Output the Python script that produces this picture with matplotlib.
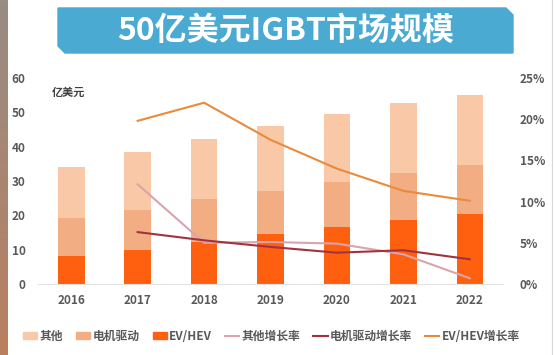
import matplotlib
matplotlib.use("Agg")
import matplotlib.pyplot as plt
from matplotlib.patches import Polygon, Patch
from matplotlib.lines import Line2D
import numpy as np

plt.rcParams["font.family"] = ["Noto Sans CJK SC", "DejaVu Sans"]

years = ["2016", "2017", "2018", "2019", "2020", "2021", "2022"]
# market size, 亿美元 (stacked)
ev_hev = [8.3, 9.9, 12.3, 14.6, 16.5, 18.5, 20.4]
motor = [10.8, 11.7, 12.4, 12.6, 13.3, 13.8, 14.3]
other = [15.1, 16.8, 17.6, 18.7, 19.7, 20.3, 20.4]
# growth rates, % (start at 2017)
other_growth = [12.1, 5.0, 5.1, 4.9, 3.6, 0.7]
motor_growth = [6.3, 5.3, 4.5, 3.8, 4.1, 3.0]
ev_growth = [19.8, 22.0, 17.5, 14.0, 11.3, 10.1]

C_OTHER = "#f9c8a7"
C_MOTOR = "#f2ae82"
C_EV = "#fe6010"
C_OTHER_G = "#d9a4ad"
C_MOTOR_G = "#a3323f"
C_EV_G = "#ea8a3c"
TXT = "#595959"

fig = plt.figure(figsize=(5.54, 3.55), dpi=100)
fig.patch.set_facecolor("white")

#gray-to-brown strip on the left edge
strip = fig.add_axes([0, 0, 8 / 554, 1])
top_c = np.array([0x98, 0x8c, 0x84]) / 255
bot_c = np.array([0xb9, 0x80, 0x5f]) / 255
t = np.linspace(0, 1, 100)[:, None, None]
strip.imshow(top_c * (1 - t) + bot_c * t, aspect="auto", extent=(0, 1, 0, 1))
strip.axis("off")
fig.add_artist(Line2D([552 / 554, 552 / 554], [0, 1], color="#d8d8d8", lw=0.8))

#title banner with cut corners
x0, x1, y0, y1, c = 58 / 554, 513 / 554, 1 - 53 / 355, 1 - 8 / 355, 7
banner = Polygon([(x0, y0 + c / 355), (x0, y1), (x1 - c / 554, y1), (x1, y1 - c / 355),
                  (x1, y0), (x0 + c / 554, y0)],
                 closed=True, transform=fig.transFigure, color="#4aaad2", zorder=1)
fig.patches.append(banner)
fig.text(0.5 * (x0 + x1), 0.5 * (y0 + y1), "50亿美元IGBT市场规模", color="white",
         fontsize=23, fontweight="bold", ha="center", va="center", zorder=2)

ax = fig.add_axes([38 / 554, 71 / 355, 465 / 554, 206 / 355])
x = np.arange(len(years))
w = 0.4
bottom2 = np.array(ev_hev) + np.array(motor)
ax.bar(x, ev_hev, w, color=C_EV, zorder=2)
ax.bar(x, motor, w, bottom=ev_hev, color=C_MOTOR, zorder=2)
ax.bar(x, other, w, bottom=bottom2, color=C_OTHER, zorder=2)
ax.set_xlim(-0.5, 6.5)
ax.set_ylim(0, 60)
ax.set_yticks(range(0, 61, 10))
ax.set_xticks(x, years)
for s in ["top", "right", "left"]:
    ax.spines[s].set_visible(False)
ax.spines["bottom"].set_color("#e3e3e3")
ax.tick_params(length=0, colors=TXT, labelsize=8.5)
ax.tick_params(axis="x", pad=7)
ax.tick_params(axis="y", pad=9)
for lbl in ax.get_xticklabels() + ax.get_yticklabels():
    lbl.set_fontweight("bold")
ax.text(0.03, 0.93, "亿美元", transform=ax.transAxes, fontsize=8,
        fontweight="bold", color="#404040", va="center")

ax2 = ax.twinx()
xg = x[1:]
ax2.plot(xg, other_growth, color=C_OTHER_G, lw=1.5, zorder=3)
ax2.plot(xg, motor_growth, color=C_MOTOR_G, lw=1.5, zorder=3)
ax2.plot(xg, ev_growth, color=C_EV_G, lw=1.5, zorder=3)
ax2.set_ylim(0, 25)
ax2.set_yticks(range(0, 26, 5), [f"{v}%" for v in range(0, 26, 5)])
for s in ["top", "right", "left", "bottom"]:
    ax2.spines[s].set_visible(False)
ax2.tick_params(length=0, colors=TXT, labelsize=8.5, pad=12)
for lbl in ax2.get_yticklabels():
    lbl.set_fontweight("bold")

handles = [Patch(color=C_OTHER), Patch(color=C_MOTOR), Patch(color=C_EV),
           Line2D([], [], color=C_OTHER_G, lw=1.5),
           Line2D([], [], color=C_MOTOR_G, lw=1.5),
           Line2D([], [], color=C_EV_G, lw=1.5)]
labels = ["其他", "电机驱动", "EV/HEV", "其他增长率", "电机驱动增长率", "EV/HEV增长率"]
leg = fig.legend(handles, labels, loc="center", bbox_to_anchor=(0.49, 0.052), ncol=6,
                 frameon=False, fontsize=8.5, handlelength=1.2, handleheight=0.55,
                 handletextpad=0.2, columnspacing=1.1)
for lbl in leg.get_texts():
    lbl.set_color(TXT)
    lbl.set_fontweight("bold")

fig.savefig("out.png", dpi=100)
